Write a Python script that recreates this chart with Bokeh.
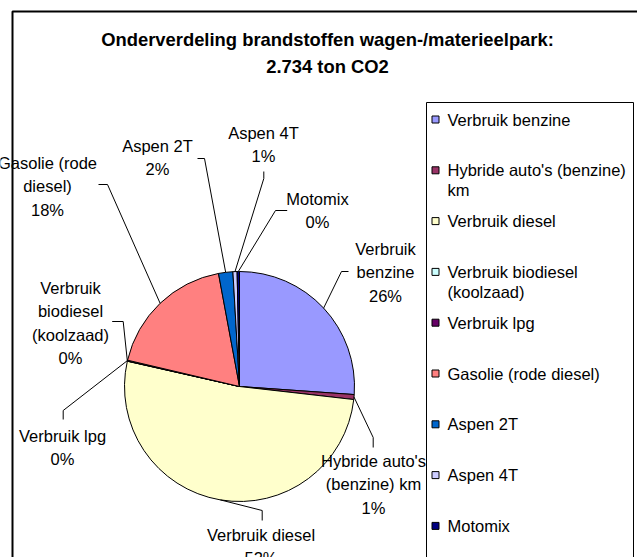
import numpy as np
from bokeh.plotting import figure
from bokeh.models import Range1d
from bokeh.core.properties import value
from bokeh.embed import file_html
from bokeh.resources import INLINE

# ---------------- data ----------------
title_lines = ["Onderverdeling brandstoffen wagen-/materieelpark:", "2.734 ton CO2"]
categories = ["Verbruik benzine", "Hybride auto's (benzine) km", "Verbruik diesel",
              "Verbruik biodiesel (koolzaad)", "Verbruik lpg", "Gasolie (rode diesel)",
              "Aspen 2T", "Aspen 4T", "Motomix"]
values_ton = [714, 19, 1414, 1, 3, 503, 55, 16, 9]
colors = ["#9999FF", "#993366", "#FFFFCC", "#CCFFFF", "#660066", "#FF8080",
          "#0066CC", "#CCCCFF", "#000080"]
label_lines = [["Verbruik", "benzine"], ["Hybride auto's", "(benzine) km"], ["Verbruik diesel"],
               ["Verbruik", "biodiesel", "(koolzaad)"], ["Verbruik lpg"], ["Gasolie (rode", "diesel)"],
               ["Aspen 2T"], ["Aspen 4T"], ["Motomix"]]
legend_lines = [["Verbruik benzine"], ["Hybride auto's (benzine)", "km"], ["Verbruik diesel"],
                ["Verbruik biodiesel", "(koolzaad)"], ["Verbruik lpg"], ["Gasolie (rode diesel)"],
                ["Aspen 2T"], ["Aspen 4T"], ["Motomix"]]

# ---------------- layout (screen px of the 637x557 picture) ----------------
W, H = 637, 557
def X(x): return x
def Y(y): return H - y

FONT = value("Liberation Sans")
CX, CY, R = 239, 386, 115
# label text anchor (center x, first-line y), leader elbow and end
label_pos = [(385, 248), (373, 460), (260.5, 534), (70, 287), (62, 435),
             (47, 162), (157, 145), (263, 132), (317, 198)]
leader_pts = [[(341, 271), (348, 271)], [(372.7, 437), (372.7, 447)], [(261.7, 510), (261.7, 520)],
              [(122.7, 321), (111.7, 321)], [(62.7, 410), (62.7, 419)], [(107, 184), (98, 184)],
              [(204, 158), (197, 158)], [(263.3, 178), (263.3, 171)], [(275, 210), (286.7, 210)]]
LINE_H = 23.5

p = figure(width=W, height=H, x_range=Range1d(0, W), y_range=Range1d(0, H),
           x_axis_type=None, y_axis_type=None, toolbar_location=None,
           output_backend="svg", min_border=0, outline_line_color=None)
p.background_fill_color = "white"
p.border_fill_color = "white"

# title
for i, t in enumerate(title_lines):
    p.text(x=[X(327)], y=[Y(38.5 + 27 * i)], text=[t], text_font=FONT, text_font_size="18.4px",
           text_font_style="bold", text_align="center", text_baseline="middle", text_color="black")

# pie
n = len(values_ton)
total = float(sum(values_ton))
frac = np.array(values_ton) / total
cum = np.concatenate([[0.0], np.cumsum(frac)])
start = np.pi / 2 - 2 * np.pi * cum[:-1]
end = np.pi / 2 - 2 * np.pi * cum[1:]
p.wedge(x=[X(CX)] * n, y=[Y(CY)] * n, radius=R, radius_units="screen",
        start_angle=list(start), end_angle=list(end), direction="clock",
        fill_color=colors, line_color="black", line_width=1)

# leader lines + labels
mid = (cum[:-1] + cum[1:]) / 2 * 2 * np.pi
xs, ys = [], []
for i in range(n):
    ax = CX + R * np.sin(mid[i])
    ay = CY - R * np.cos(mid[i])
    pts = [(ax, ay)] + leader_pts[i]
    xs.append([X(a) for a, b in pts])
    ys.append([Y(b) for a, b in pts])
p.multi_line(xs=xs, ys=ys, line_color="black", line_width=1)

for i in range(n):
    pct = f"{int(round(100 * values_ton[i] / total))}%"
    lines = label_lines[i] + [pct]
    lx, ly = label_pos[i]
    p.text(x=[X(lx)] * len(lines), y=[Y(ly + LINE_H * k) for k in range(len(lines))], text=lines,
           text_font=FONT, text_font_size="16.5px", text_align="center", text_baseline="middle",
           text_color="black")

# legend box
p.quad(left=[X(426)], right=[X(633)], top=[Y(102)], bottom=[Y(620)],
       fill_color="white", line_color="black", line_width=1)
for i in range(n):
    y0 = 119 + 50.8 * i
    p.scatter(x=[X(435)], y=[Y(y0)], marker="square", size=7, fill_color=colors[i],
              line_color="black", line_width=1)
    lines = legend_lines[i]
    p.text(x=[X(447)] * len(lines), y=[Y(y0 + 20 * k) for k in range(len(lines))], text=lines,
           text_font=FONT, text_font_size="16.5px", text_align="left", text_baseline="middle",
           text_color="black")

# chart area border (cropped at right and bottom)
p.line(x=[X(12), X(12), X(645)], y=[Y(600), Y(11), Y(11)], line_color="black", line_width=2)

open("out.html", "w").write(file_html(p, INLINE))
